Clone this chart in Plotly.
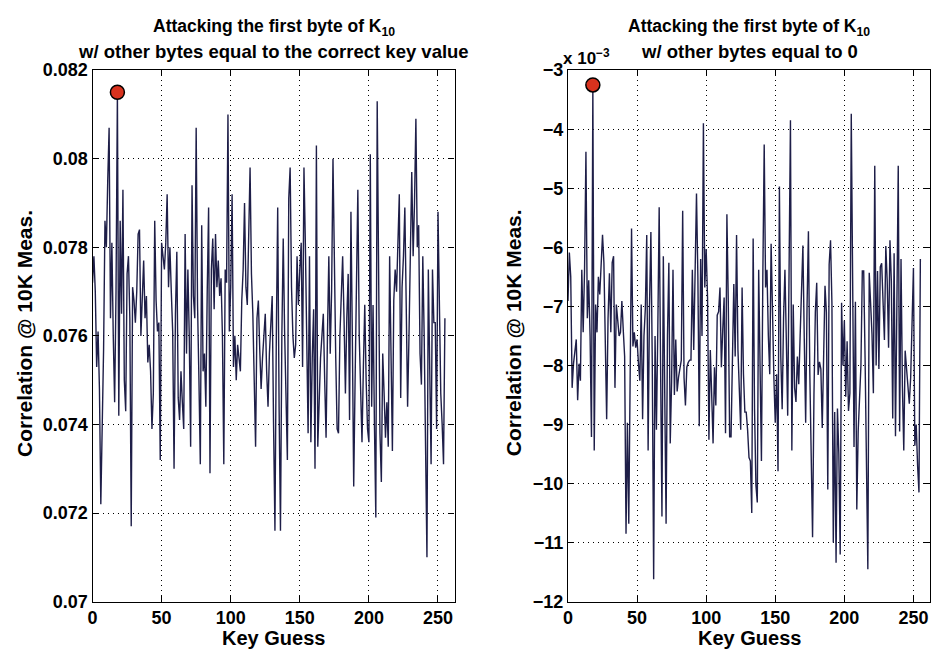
import plotly.graph_objects as go

# Key guesses 0..255
key_guess = list(range(256))

# Left panel: correlation, other bytes equal to the correct key value
corr_correct = [
    0.0772, 0.0778, 0.0770, 0.0753, 0.0761, 0.0748, 0.0722, 0.0740, 0.0757, 0.0786,
    0.0780, 0.0795, 0.0807, 0.0764, 0.0781, 0.0760, 0.0745, 0.0770, 0.0815, 0.0742,
    0.0786, 0.0765, 0.0793, 0.0750, 0.0743, 0.0774, 0.0778, 0.0764, 0.0717, 0.0771,
    0.0768, 0.0763, 0.0770, 0.0783, 0.0784, 0.0760, 0.0770, 0.0777, 0.0764, 0.0769,
    0.0754, 0.0758, 0.0752, 0.0739, 0.0747, 0.0786, 0.0768, 0.0761, 0.0763, 0.0732,
    0.0781, 0.0778, 0.0775, 0.0781, 0.0792, 0.0771, 0.0780, 0.0770, 0.0761, 0.0730,
    0.0765, 0.0779, 0.0746, 0.0741, 0.0752, 0.0745, 0.0739, 0.0783, 0.0756, 0.0775,
    0.0760, 0.0735, 0.0794, 0.0769, 0.0764, 0.0807, 0.0767, 0.0750, 0.0731, 0.0785,
    0.0752, 0.0756, 0.0744, 0.0770, 0.0789, 0.0729, 0.0775, 0.0782, 0.0766, 0.0783,
    0.0771, 0.0777, 0.0769, 0.0773, 0.0760, 0.0731, 0.0775, 0.0772, 0.0810, 0.0761,
    0.0771, 0.0792, 0.0753, 0.0760, 0.0750, 0.0758, 0.0755, 0.0752, 0.0768, 0.0775,
    0.0790, 0.0771, 0.0767, 0.0785, 0.0798, 0.0774, 0.0765, 0.0750, 0.0735, 0.0764,
    0.0768, 0.0757, 0.0748, 0.0755, 0.0760, 0.0765, 0.0752, 0.0744, 0.0756, 0.0763,
    0.0769, 0.0740, 0.0716, 0.0760, 0.0789, 0.0744, 0.0716, 0.0760, 0.0782, 0.0761,
    0.0745, 0.0732, 0.0791, 0.0798, 0.0771, 0.0760, 0.0755, 0.0758, 0.0778, 0.0767,
    0.0775, 0.0781, 0.0753, 0.0798, 0.0781, 0.0760, 0.0738, 0.0778, 0.0736, 0.0755,
    0.0766, 0.0730, 0.0803, 0.0735, 0.0748, 0.0755, 0.0760, 0.0765, 0.0750, 0.0737,
    0.0760, 0.0778, 0.0756, 0.0770, 0.0800, 0.0774, 0.0755, 0.0739, 0.0738, 0.0760,
    0.0770, 0.0778, 0.0764, 0.0747, 0.0764, 0.0774, 0.0741, 0.0788, 0.0760, 0.0726,
    0.0750, 0.0771, 0.0793, 0.0760, 0.0746, 0.0736, 0.0753, 0.0767, 0.0750, 0.0739,
    0.0736, 0.0801, 0.0744, 0.0767, 0.0740, 0.0719, 0.0813, 0.0765, 0.0738, 0.0727,
    0.0756, 0.0747, 0.0737, 0.0745, 0.0735, 0.0778, 0.0757, 0.0734, 0.0768, 0.0775,
    0.0770, 0.0783, 0.0792, 0.0746, 0.0771, 0.0778, 0.0789, 0.0767, 0.0744, 0.0760,
    0.0781, 0.0797, 0.0778, 0.0790, 0.0809, 0.0780, 0.0785, 0.0756, 0.0749, 0.0778,
    0.0760, 0.0740, 0.0710, 0.0775, 0.0750, 0.0731, 0.0775, 0.0763, 0.0763, 0.0739,
    0.0788, 0.0767, 0.0747, 0.0740, 0.0731, 0.0764,
]

# Right panel: correlation (x 10^-3), other bytes equal to 0
corr_zero_e3 = [
    -6.91, -6.09, -6.50, -8.38, -7.97, -7.70, -7.56, -8.59, -7.97, -8.26,
    -6.38, -7.44, -6.38, -4.38, -7.20, -6.56, -7.50, -9.21, -3.25, -9.44,
    -6.97, -7.44, -6.50, -6.80, -6.20, -5.79, -6.26, -7.79, -8.91, -7.20,
    -6.44, -7.44, -6.26, -6.15, -8.38, -6.97, -7.30, -7.50, -7.44, -6.91,
    -7.40, -7.85, -10.85, -8.97, -10.68, -7.38, -5.68, -7.68, -7.44, -7.70,
    -7.56, -7.97, -8.26, -6.97, -8.91, -7.50, -7.03, -5.79, -9.44, -7.00,
    -5.74, -7.97, -11.62, -7.50, -9.09, -7.40, -5.32, -7.97, -10.56, -6.15,
    -9.09, -10.68, -7.50, -6.26, -9.32, -8.26, -6.38, -8.50, -7.56, -8.44,
    -8.20, -8.03, -7.91, -5.38, -8.21, -8.68, -8.03, -7.95, -7.91, -7.91,
    -6.38, -7.74, -6.20, -5.09, -6.50, -9.03, -6.20, -7.50, -3.90, -6.68,
    -6.03, -6.85, -9.26, -7.74, -8.50, -9.32, -8.03, -8.68, -7.15, -7.09,
    -6.68, -8.03, -7.40, -6.85, -9.15, -5.44, -6.91, -9.21, -9.21, -7.50,
    -6.62, -7.85, -5.79, -7.74, -8.50, -9.09, -6.68, -8.15, -8.79, -8.79,
    -9.10, -9.56, -9.62, -10.50, -5.85, -8.74, -10.03, -10.32, -6.38, -8.09,
    -9.62, -6.50, -4.26, -6.68, -6.38, -7.50, -8.15, -5.94, -7.32, -8.21,
    -8.97, -8.15, -9.79, -4.97, -7.85, -8.74, -7.20, -6.38, -7.56, -8.85,
    -6.38, -3.85, -9.44, -6.97, -8.38, -8.62, -7.85, -8.32, -7.50, -6.50,
    -5.97, -7.56, -8.97, -7.00, -5.73, -8.12, -9.80, -10.91, -8.50, -7.10,
    -6.60, -8.16, -7.94, -8.06, -9.06, -7.50, -6.65, -7.10, -10.10, -6.29,
    -5.88, -6.94, -11.00, -8.79, -11.34, -8.73, -9.50, -11.20, -6.94, -8.00,
    -7.24, -8.53, -7.59, -8.77, -8.47, -3.74, -6.10, -9.38, -6.92, -10.44,
    -9.12, -8.50, -8.00, -6.40, -6.40, -7.88, -9.36, -11.45, -6.43, -7.00,
    -7.47, -8.47, -4.62, -8.00, -6.40, -8.06, -6.33, -6.27, -7.00, -7.57,
    -5.98, -6.57, -7.70, -5.88, -6.57, -8.90, -6.10, -9.20, -7.00, -4.62,
    -9.12, -6.20, -8.35, -9.44, -7.75, -8.06, -8.40, -8.65, -8.20, -7.36,
    -6.35, -9.36, -9.00, -9.70, -10.15, -6.20,
]

correct_key = 18

x_ticks = [0, 50, 100, 150, 200, 250]
left_yticks = [0.070, 0.072, 0.074, 0.076, 0.078, 0.080, 0.082]
left_yticktext = ["0.07", "0.072", "0.074", "0.076", "0.078", "0.08", "0.082"]
right_yticks = [-12, -11, -10, -9, -8, -7, -6, -5, -4, -3]
right_yticktext = ["\u221212", "\u221211", "\u221210", "\u22129", "\u22128",
                   "\u22127", "\u22126", "\u22125", "\u22124", "\u22123"]

title_line1 = "Attacking the first byte of K<sub>10</sub>"
left_title2 = "w/ other bytes equal to the correct key value"
right_title2 = "w/ other bytes equal to 0"

LINE_COLOR = "#1e1e48"
FONT = "Liberation Sans"

fig = go.Figure()

fig.add_trace(go.Scatter(x=key_guess, y=corr_correct, mode="lines",
                         line=dict(color=LINE_COLOR, width=1.4),
                         xaxis="x", yaxis="y", showlegend=False))
fig.add_trace(go.Scatter(x=[correct_key], y=[corr_correct[correct_key]], mode="markers",
                         marker=dict(color="#d8321e", size=14, line=dict(color="black", width=1.5)),
                         xaxis="x", yaxis="y", showlegend=False))
fig.add_trace(go.Scatter(x=key_guess, y=corr_zero_e3, mode="lines",
                         line=dict(color=LINE_COLOR, width=1.4),
                         xaxis="x2", yaxis="y2", showlegend=False))
fig.add_trace(go.Scatter(x=[correct_key], y=[corr_zero_e3[correct_key]], mode="markers",
                         marker=dict(color="#d8321e", size=14, line=dict(color="black", width=1.5)),
                         xaxis="x2", yaxis="y2", showlegend=False))

W, H = 936, 665
ybot, ytop = 1 - 610 / H, 1 - 62 / H

axis_common = dict(
    showline=True, linecolor="black", linewidth=1.3, mirror="ticks",
    ticks="inside", ticklen=6, tickcolor="black",
    showgrid=True, gridcolor="black", griddash="1px,4px", gridwidth=1.3,
    zeroline=False,
    tickfont=dict(family=FONT, size=18, color="black", weight="bold"),
)

fig.update_layout(
    width=W, height=H,
    margin=dict(l=0, r=0, t=0, b=0),
    paper_bgcolor="white", plot_bgcolor="white",
    xaxis=dict(domain=[88 / W, 452 / W], range=[0, 262], tickvals=x_ticks,
               anchor="y", **axis_common),
    yaxis=dict(domain=[ybot, ytop], range=[0.070, 0.082], tickvals=left_yticks,
               ticktext=left_yticktext, anchor="x", **axis_common),
    xaxis2=dict(domain=[566 / W, 930 / W], range=[0, 262], tickvals=x_ticks,
                anchor="y2", **axis_common),
    yaxis2=dict(domain=[ybot, ytop], range=[-12, -3], tickvals=right_yticks,
                ticktext=right_yticktext, anchor="x2", **axis_common),
)

def bold(size):
    return dict(family=FONT, size=size, color="black", weight="bold")

ann = []
for cx, t2 in [(270, left_title2), (748, right_title2)]:
    ann.append(dict(x=cx / W, y=1 - 18 / H, xref="paper", yref="paper", text=title_line1,
                    showarrow=False, font=bold(17.5), xanchor="center", yanchor="middle"))
    ann.append(dict(x=cx / W, y=1 - 43 / H, xref="paper", yref="paper", text=t2,
                    showarrow=False, font=bold(18.5), xanchor="center", yanchor="middle"))
for cx in [270, 748]:
    ann.append(dict(x=cx / W, y=1 - 647 / H, xref="paper", yref="paper", text="Key Guess",
                    showarrow=False, font=bold(20), xanchor="center", yanchor="middle"))
for cx in [20, 512]:
    ann.append(dict(x=cx / W, y=1 - 333 / H, xref="paper", yref="paper",
                    text="Correlation @ 10K Meas.", textangle=-90,
                    showarrow=False, font=bold(21), xanchor="center", yanchor="middle"))
ann.append(dict(x=559 / W, y=1 - 48 / H, xref="paper", yref="paper",
                text="x 10<sup>\u22123</sup>", showarrow=False, font=bold(17),
                xanchor="left", yanchor="middle"))
fig.update_layout(annotations=ann)

fig.write_html("out.html")
